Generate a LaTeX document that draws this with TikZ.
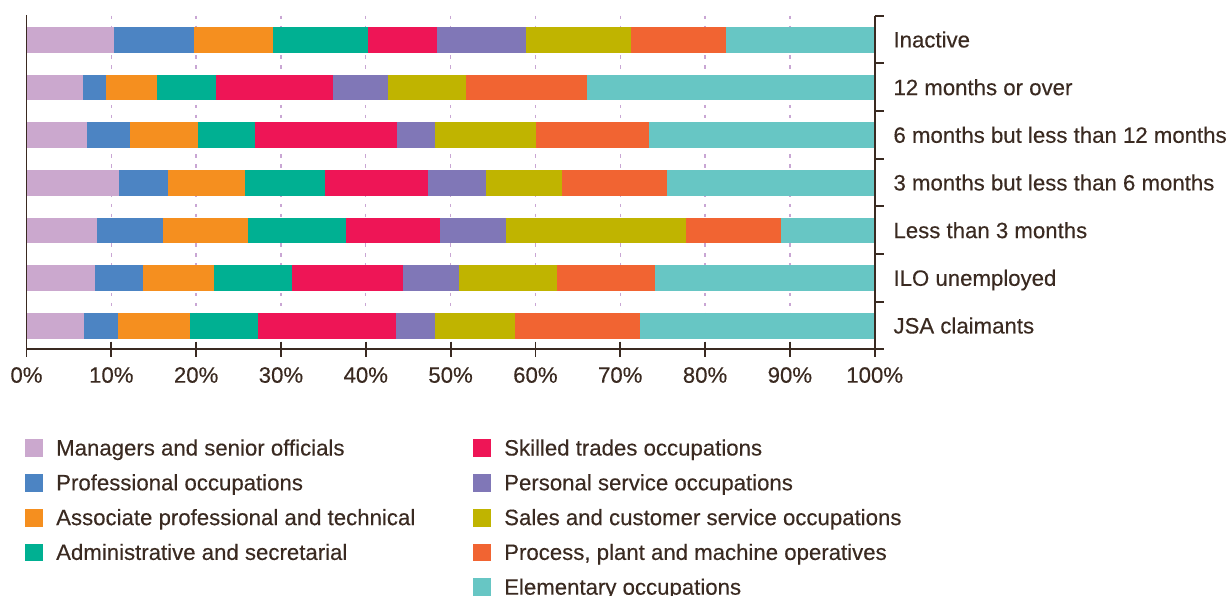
\documentclass[tikz,border=0pt]{standalone}
\usepackage{fontspec}
\setmainfont{Liberation Sans}[FakeBold=0.3]
\definecolor{c1}{HTML}{CBA8CE}
\definecolor{c2}{HTML}{4C84C3}
\definecolor{c3}{HTML}{F58F1F}
\definecolor{c4}{HTML}{00B092}
\definecolor{c5}{HTML}{EE1556}
\definecolor{c6}{HTML}{8077B7}
\definecolor{c7}{HTML}{C0B400}
\definecolor{c8}{HTML}{F16432}
\definecolor{c9}{HTML}{67C6C4}
\definecolor{ink}{HTML}{3A2A21}
\definecolor{gridc}{HTML}{C9A6D4}
\newcommand\occbar[2]{%
  \foreach \x [count=\i, remember=\x as \px (initially 26.5)] in {#2}
    {\fill[c\i] (\px,#1) rectangle (\x,{#1+25.7});}%
}
\begin{document}
\begin{tikzpicture}[x=1pt,y=-1pt,
  txt/.style={font=\fontsize{22.2}{26}\selectfont, text=ink, inner sep=0pt},
  axisline/.style={draw=ink, line width=1.8pt},
  gridline/.style={draw=gridc, line width=1.3pt, dash pattern=on 3.5pt off 6.4pt},
  swatch/.style={minimum width=18pt, minimum height=17.7pt, inner sep=0pt, anchor=north west}]
\useasboundingbox (0,0) rectangle (1229,596);
% grid
\foreach \k in {1,...,9}
  \draw[gridline] ({26.5+84.82*\k},15.7) -- ({26.5+84.82*\k},349);
% bars
\occbar{27}{114,194,273,368,437,526,631,726,874.7}
\occbar{74.67}{83,106,157,216,333,388,466,587,874.7}
\occbar{122.33}{87,130,198,255,397,435,536,649,874.7}
\occbar{170}{119,168,245,325,428,486,562,667,874.7}
\occbar{217.67}{97,163,248,346,440,506,686,781,874.7}
\occbar{265.33}{95,143,214,292,403,459,557,655,874.7}
\occbar{313}{84,118,190,258,396,435,515,640,874.7}
% axes
\draw[axisline] (26.5,15) -- (26.5,357);
\draw[axisline] (26.5,349.3) -- (884,349.3);
\draw[axisline] (874.7,15.7) -- (874.7,357);
\foreach \k in {1,...,9}
  \draw[axisline] ({26.5+84.82*\k},341.7) -- ({26.5+84.82*\k},356.7);
\foreach \k in {0,...,6}
  \draw[axisline] (874.7,{15.7+47.67*\k}) -- (884,{15.7+47.67*\k});
% x tick labels
\foreach \k/\t in {0/0\%,1/10\%,2/20\%,3/30\%,4/40\%,5/50\%,6/60\%,7/70\%,8/80\%,9/90\%,10/100\%}
  \node[txt, anchor=base] (xt\k) at ({26.5+84.82*\k},382.7) {\t};
% category labels
\foreach \k/\t in {0/Inactive,1/12 months or over,2/6 months but less than 12 months,3/3 months but less than 6 months,4/Less than 3 months,5/ILO unemployed,6/JSA claimants}
  \node[txt, anchor=base west] (cat\k) at (893.3,{39.85+47.67*\k+7.6}) {\t};
% legend
\foreach \k/\t in {0/Managers and senior officials,1/Professional occupations,2/Associate professional and technical,3/Administrative and secretarial}{
  \node[swatch, fill=c\the\numexpr\k+1\relax] (swL\k) at (25,{455.5+34.8*\k-16.5}) {};
  \node[txt, anchor=base west] (legL\k) at (56,{455.5+34.8*\k}) {\t};
}
\foreach \k/\t in {0/Skilled trades occupations,1/Personal service occupations,2/Sales and customer service occupations,3/{Process, plant and machine operatives},4/Elementary occupations}{
  \node[swatch, fill=c\the\numexpr\k+5\relax] (swR\k) at (473,{455.5+34.8*\k-16.5}) {};
  \node[txt, anchor=base west] (legR\k) at (504,{455.5+34.8*\k}) {\t};
}
\end{tikzpicture}
\end{document}
